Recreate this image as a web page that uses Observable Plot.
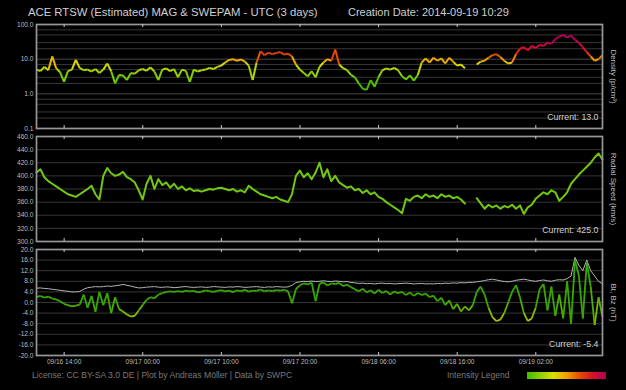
<!DOCTYPE html>
<html><head><meta charset="utf-8">
<script src="https://cdn.jsdelivr.net/npm/d3@7"></script>
<script src="https://cdn.jsdelivr.net/npm/@observablehq/plot@0.6"></script>
<style>
html,body{margin:0;padding:0;background:#000;}
#wrap{position:relative;width:626px;height:390px;background:#000;overflow:hidden;font-family:"Liberation Sans",Arial,sans-serif;}
.abs{position:absolute;white-space:nowrap;line-height:12px;}
.abs svg{display:block;}
</style></head><body><div id="wrap"></div>
<script>
// ---------- data ----------
const titleText = "ACE RTSW (Estimated) MAG & SWEPAM - UTC (3 days)";
const creationText = "Creation Date: 2014-09-19 10:29";
const footerText = "License: CC BY-SA 3.0 DE | Plot by Andreas Möller | Data by SWPC";
const legendText = "Intensity Legend";
const startTime = "2014-09-16T10:29Z";
const endTime = "2014-09-19T10:29Z";
const stepMinutes = 30;
const xTickLabels = ["2014-09-16T14:00Z","2014-09-17T00:00Z","2014-09-17T10:00Z","2014-09-17T20:00Z","2014-09-18T06:00Z","2014-09-18T16:00Z","2014-09-19T02:00Z"];

const densTicks = [0.1, 1, 10, 100];
const densGrid = [0.2,0.3,0.5,0.7, 2,3,5,7, 20,30,50,70];
const speedTicks = [300,320,340,360,380,400,420,440,460];
const bTicks = [-20,-16,-12,-8,-4,0,4,8,12,16,20];

const densLabel = "Density (p/cm³)";
const speedLabel = "Radial Speed (km/s)";
const bLabel = "Bt, Bz (nT)";

const dens = [5.0,4.5,6.0,4.8,12.0,5.5,4.2,2.2,4.5,5.0,
 9.5,5.5,4.8,5.0,4.4,5.2,4.0,5.0,7.5,4.5,
 2.0,3.5,3.4,2.5,4.0,3.8,4.8,5.2,4.6,5.8,
 4.4,2.5,5.0,5.4,4.5,5.2,3.0,5.0,4.6,2.2,
 5.0,4.4,4.8,5.0,5.6,5.2,6.0,6.5,8.0,9.5,
 10.0,9.0,9.8,8.5,6.5,2.5,8.0,17.0,13.0,15.5,
 14.0,15.0,16.0,13.5,14.5,12.0,7.0,5.0,4.0,3.2,
 4.5,3.0,6.0,8.0,10.0,9.0,19.0,7.0,5.5,4.8,
 3.5,3.0,2.0,1.4,1.3,2.5,1.6,3.0,4.8,5.4,
 5.0,5.6,4.8,3.2,2.6,3.4,2.4,3.5,8.0,10.5,
 8.0,11.0,9.0,10.5,7.5,11.0,8.5,6.5,7.0,5.5,
 null,null,7.0,8.5,9.0,11.0,13.0,14.0,11.5,9.0,
 7.5,8.0,14.0,20.0,22.0,18.0,24.0,21.0,26.0,24.0,
 30.0,28.0,38.0,45.0,50.0,42.0,48.0,36.0,30.0,22.0,
 16.0,12.0,9.0,10.0,13.0];

const speed = [405,410,398,392,388,384,380,376,372,370,
 368,372,376,380,385,372,364,400,412,404,
 400,402,406,398,395,390,378,364,388,400,
 380,395,386,390,382,388,380,384,378,381,
 377,378,376,378,380,379,381,382,380,378,
 380,376,378,375,385,380,376,372,370,368,
 366,368,364,362,360,372,400,408,398,404,
 395,405,420,398,410,392,400,390,386,382,
 384,378,380,374,378,372,375,368,365,360,
 356,352,348,343,365,362,368,370,366,372,
 368,370,366,372,368,370,366,368,364,358,
 null,null,366,358,350,356,352,355,350,354,
 352,356,350,355,342,352,356,365,370,375,
 372,378,375,362,368,375,388,395,402,408,
 414,420,428,434,425];

const bz = [2.0,2.5,1.8,2.2,1.5,1.2,0.5,-0.5,-1.0,-1.5,
 -1.2,-0.8,3.0,-2.0,2.5,-3.5,4.0,-1.0,3.5,-4.0,
 2.0,-2.5,-3.4,-4.5,-5.3,-5.0,-3.0,-1.0,1.0,2.0,
 1.6,3.0,3.5,4.0,4.2,4.0,4.3,4.0,4.5,4.2,
 4.4,3.8,4.1,4.6,4.3,4.0,4.4,4.7,4.2,4.5,
 3.9,4.6,4.3,4.8,4.1,4.5,4.4,4.9,4.2,4.6,
 4.3,4.7,4.5,4.8,4.2,-0.3,5.0,6.5,7.2,6.8,
 7.5,0.5,7.0,7.6,6.4,7.2,6.9,7.4,6.2,6.8,
 5.8,5.0,4.2,5.2,3.8,4.6,3.4,4.8,3.6,4.4,
 3.0,4.2,3.5,4.0,2.8,3.8,2.5,3.6,2.8,3.4,
 2.0,2.6,0.5,1.8,-1.0,0.8,-2.5,-0.5,-3.4,-1.5,
 -3.0,-1.0,4.0,6.0,3.0,-2.0,-5.5,-7.0,-6.5,-4.0,
 0.0,4.0,6.5,2.0,-4.0,-7.0,-6.0,-2.0,5.0,7.0,
 -3.0,6.0,-5.0,3.0,-6.0,8.0,-8.0,16.0,10.0,-6.0,
 15.0,6.0,-8.5,2.0,-5.4];

const bt = [5.4,5.5,5.3,5.2,5.0,4.8,4.6,4.4,4.2,4.0,
 4.0,4.2,5.0,5.6,5.8,6.0,5.9,6.0,6.2,6.1,
 6.3,6.5,6.8,6.5,6.2,5.8,5.5,5.6,5.8,5.9,
 6.0,5.8,5.7,5.9,5.8,5.6,5.7,5.9,6.0,5.8,
 5.7,5.8,5.9,5.7,5.8,6.0,5.9,5.8,5.7,5.9,
 5.8,6.0,5.9,5.7,5.8,5.9,6.0,5.8,5.7,5.9,
 5.8,6.0,5.9,5.8,5.9,6.5,7.5,7.8,8.0,7.9,
 8.1,7.9,8.0,8.2,8.0,7.9,8.1,8.0,7.8,7.9,
 7.6,7.4,7.2,7.3,7.1,7.2,7.0,7.2,7.3,7.1,
 7.2,7.0,7.1,7.2,7.3,7.2,7.0,7.1,7.2,7.0,
 7.1,7.0,7.2,7.1,7.3,7.2,7.4,7.3,7.5,7.4,
 7.6,7.6,7.8,8.0,8.3,8.6,8.8,8.5,8.2,7.9,
 7.8,8.0,8.4,8.6,8.8,8.5,8.2,8.0,8.3,8.5,
 8.2,8.0,8.4,8.6,8.5,9.0,10.0,17.0,14.0,12.0,
 16.0,12.0,10.0,8.0,7.0];

const densCurrent = 13.0, speedCurrent = 425.0, bzCurrent = -5.4;

const intensityColors = ["#3fbf00","#8fd000","#dede00","#f0a000","#e84c00","#d8102a","#b00058"];
const densStops = [2, 4, 7, 10, 13, 20, 35];
const bzStops = [0, -4, -8, -12];
const bzColors = ["#38a800","#84bc00","#c4c400","#e8a000"];

// ---------- helpers ----------
const t0 = new Date(startTime), t1 = new Date(endTime);
const times = dens.map((_, i) => new Date(+t0 + i * stepMinutes * 60000));
const xTicks = xTickLabels.map(s => new Date(s));
function segments(arr) {
  const out = [];
  for (let i = 1; i < arr.length; i++) {
    const a = arr[i - 1], b = arr[i];
    if (a == null || b == null) continue;
    out.push({t1: times[i - 1], t2: times[i], v1: a, v2: b, c: (a + b) / 2});
  }
  return out;
}
const fmt1 = d => d.toFixed(1);
const W = 626, ML = 36, MR = 24;
const textFill = "#bdbdbd";
const frameStroke = "#979797";
const gridStroke = "#363636";
const font = "Liberation Sans, Arial, sans-serif";

function commonMarks(frameH, label, current) {
  return [
    Plot.frame({stroke: frameStroke, strokeWidth: 1.7}),
    Plot.ruleX(xTicks, {x: d => d, insetBottom: frameH - 3, stroke: "#c8c8c8"}),
    Plot.ruleX(xTicks, {x: d => d, insetTop: frameH - 3, stroke: "#c8c8c8"}),
    Plot.text([label], {frameAnchor: "right", dx: 11, rotate: 90, textAnchor: "middle", fill: textFill, fontSize: 8}),
    Plot.text([current], {frameAnchor: "bottom-right", dx: -4, dy: -9, fill: "#d0d0d0", fontSize: 8.8, textAnchor: "end"})
  ];
}
const yAxis = ticks => Plot.axisY(ticks, {tickSize: 0, tickPadding: 3, tickFormat: fmt1, fontSize: 6.6, fill: textFill, label: null});

const wrap = document.getElementById("wrap");
function place(node, top, left) {
  const d = document.createElement("div");
  d.className = "abs"; d.style.top = top + "px"; d.style.left = left + "px";
  d.appendChild(node); wrap.appendChild(d); return d;
}
function textDiv(txt, top, left, size, color) {
  const d = document.createElement("div");
  d.className = "abs"; d.textContent = txt;
  Object.assign(d.style, {top: top + "px", left: left + "px", fontSize: size + "px", color});
  wrap.appendChild(d); return d;
}

// ---------- panel 1: density ----------
const h1 = 104;
const p1 = Plot.plot({
  width: W, height: h1 + 12, marginLeft: ML, marginRight: MR, marginTop: 6, marginBottom: 6,
  style: {background: "transparent", fontFamily: font},
  x: {type: "utc", domain: [t0, t1], axis: null},
  y: {type: "log", domain: [0.1, 100], axis: null, label: null},
  color: {type: "log", domain: densStops, range: intensityColors, clamp: true},
  marks: [
    Plot.ruleY(densGrid, {stroke: gridStroke}),
    Plot.ruleY([1, 10], {stroke: "#474747"}),
    Plot.link(segments(dens), {x1: "t1", x2: "t2", y1: "v1", y2: "v2", stroke: "c", strokeWidth: 2}),
    yAxis(densTicks),
    ...commonMarks(h1, densLabel, "Current: " + fmt1(densCurrent))
  ]
});
place(p1, 18, 0);

// ---------- panel 2: speed ----------
const h2 = 105;
const p2 = Plot.plot({
  width: W, height: h2 + 12, marginLeft: ML, marginRight: MR, marginTop: 6, marginBottom: 6,
  style: {background: "transparent", fontFamily: font},
  x: {type: "utc", domain: [t0, t1], axis: null},
  y: {domain: [300, 460], axis: null, label: null},
  marks: [
    Plot.ruleY(speedTicks, {stroke: gridStroke}),
    Plot.line(speed.map((v, i) => ({t: times[i], v})), {x: "t", y: "v", defined: d => d.v != null, stroke: "#72c810", strokeWidth: 2}),
    yAxis(speedTicks),
    ...commonMarks(h2, speedLabel, "Current: " + fmt1(speedCurrent))
  ]
});
place(p2, 130, 0);

// ---------- panel 3: Bt / Bz ----------
const h3 = 106;
const p3 = Plot.plot({
  width: W, height: h3 + 7 + 16, marginLeft: ML, marginRight: MR, marginTop: 7, marginBottom: 16,
  style: {background: "transparent", fontFamily: font},
  x: {type: "utc", domain: [t0, t1], label: null},
  y: {domain: [-20, 20], axis: null, label: null},
  color: {type: "linear", domain: bzStops, range: bzColors, clamp: true},
  marks: [
    Plot.ruleY(bTicks, {stroke: gridStroke}),
    Plot.line(bt.map((v, i) => ({t: times[i], v})), {x: "t", y: "v", stroke: "#b4b4b4", strokeWidth: 1}),
    Plot.link(segments(bz), {x1: "t1", x2: "t2", y1: "v1", y2: "v2", stroke: "c", strokeWidth: 1.8}),
    yAxis(bTicks),
    Plot.axisX(xTicks, {tickSize: 0, tickPadding: 4, tickFormat: d3.utcFormat("%m/%d %H:%M"), fontSize: 6.5, fill: textFill, label: null}),
    ...commonMarks(h3, bLabel, "Current: " + fmt1(bzCurrent))
  ]
});
place(p3, 242, 0);

// ---------- texts ----------
textDiv(titleText, 6, 28, 11.3, "#cfcfcf");
textDiv(creationText, 6, 348, 11, "#cfcfcf");
textDiv(footerText, 369, 32, 8.6, "#7a7a7a");
textDiv(legendText, 369, 447, 8.5, "#7a7a7a");
const bar = document.createElement("div");
bar.className = "abs";
Object.assign(bar.style, {top: "372px", left: "527px", width: "79px", height: "7px",
  background: "linear-gradient(to right," + intensityColors.join(",") + ")"});
wrap.appendChild(bar);
</script></body></html>
